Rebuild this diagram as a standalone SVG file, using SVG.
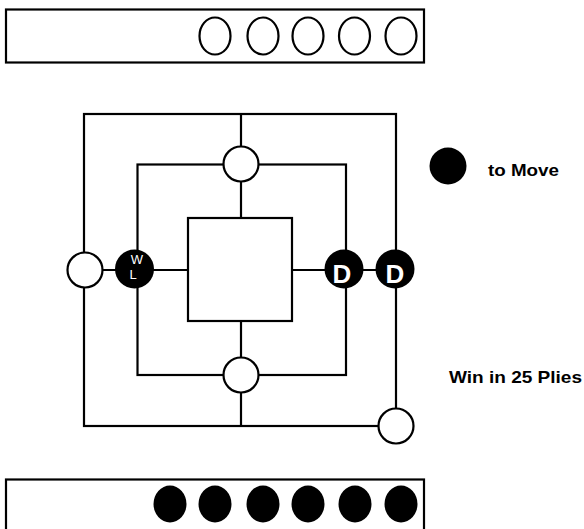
<svg xmlns="http://www.w3.org/2000/svg" width="584" height="529" viewBox="0 0 584 529">
<style>
.ln{fill:none;stroke:#000;stroke-width:2.2}
.wp{fill:#fff;stroke:#000;stroke-width:2.2}
.bp{fill:#000}
.lbl{font-family:"Liberation Sans",Arial,sans-serif;font-weight:bold;fill:#000}
.d{font-family:"Liberation Sans",Arial,sans-serif;font-weight:bold;fill:#fff;font-size:26px;text-anchor:middle}
.wl{font-family:"Liberation Sans",Arial,sans-serif;fill:#fff;font-size:13px}
</style>
<rect width="584" height="529" fill="#fff"/>
<g id="top-bar">
<rect class="ln" x="6" y="9.5" width="418" height="53"/>
<ellipse class="wp" cx="215" cy="36" rx="15.5" ry="18.5"/>
<ellipse class="wp" cx="263" cy="36" rx="15.5" ry="18.5"/>
<ellipse class="wp" cx="308" cy="36" rx="15.5" ry="18.5"/>
<ellipse class="wp" cx="354.5" cy="36" rx="15.5" ry="18.5"/>
<ellipse class="wp" cx="401" cy="36" rx="15.5" ry="18.5"/>
</g>
<g id="connectors">
<rect class="ln" x="84" y="114" width="312" height="312"/>
<rect class="ln" x="137.5" y="164.5" width="208.5" height="210.5"/>
<rect class="ln" x="188" y="218" width="104" height="103"/>
<line class="ln" x1="241" y1="114" x2="241" y2="218"/>
<line class="ln" x1="241" y1="321" x2="241" y2="426"/>
<line class="ln" x1="84" y1="270" x2="188" y2="270"/>
<line class="ln" x1="292" y1="270" x2="396" y2="270"/>
</g>
<g id="n-top"><circle class="wp" cx="241" cy="164" r="17.5"/></g>
<g id="n-bottom"><circle class="wp" cx="241" cy="375" r="17.5"/></g>
<g id="n-left"><circle class="wp" cx="85" cy="270" r="17.5"/></g>
<g id="n-wl"><circle class="bp" cx="134.5" cy="269" r="19.5"/>
<text class="wl" x="137" y="263.5" text-anchor="middle">W</text>
<text class="wl" x="133" y="279" text-anchor="middle">L</text></g>
<g id="n-d1"><circle class="bp" cx="344" cy="269" r="19.5"/><text class="d" x="342" y="282.5">D</text></g>
<g id="n-d2"><circle class="bp" cx="395" cy="269" r="19.5"/><text class="d" x="395" y="282.5">D</text></g>
<g id="n-br"><circle class="wp" cx="396" cy="426" r="17.5"/></g>
<g id="to-move">
<circle class="bp" cx="448" cy="166" r="18.5"/>
<text class="lbl" x="488" y="176" font-size="16.5" textLength="71" lengthAdjust="spacingAndGlyphs">to Move</text>
</g>
<g id="win">
<text class="lbl" x="449" y="383" font-size="17" textLength="133" lengthAdjust="spacingAndGlyphs">Win in 25 Plies</text>
</g>
<g id="bottom-bar">
<rect class="ln" x="6" y="479.5" width="418" height="60"/>
<ellipse class="bp" cx="170" cy="504" rx="16.5" ry="18.5"/>
<ellipse class="bp" cx="215" cy="504" rx="16.5" ry="18.5"/>
<ellipse class="bp" cx="263" cy="504" rx="16.5" ry="18.5"/>
<ellipse class="bp" cx="308" cy="504" rx="16.5" ry="18.5"/>
<ellipse class="bp" cx="355" cy="504" rx="16.5" ry="18.5"/>
<ellipse class="bp" cx="401" cy="504" rx="16.5" ry="18.5"/>
</g>
</svg>
